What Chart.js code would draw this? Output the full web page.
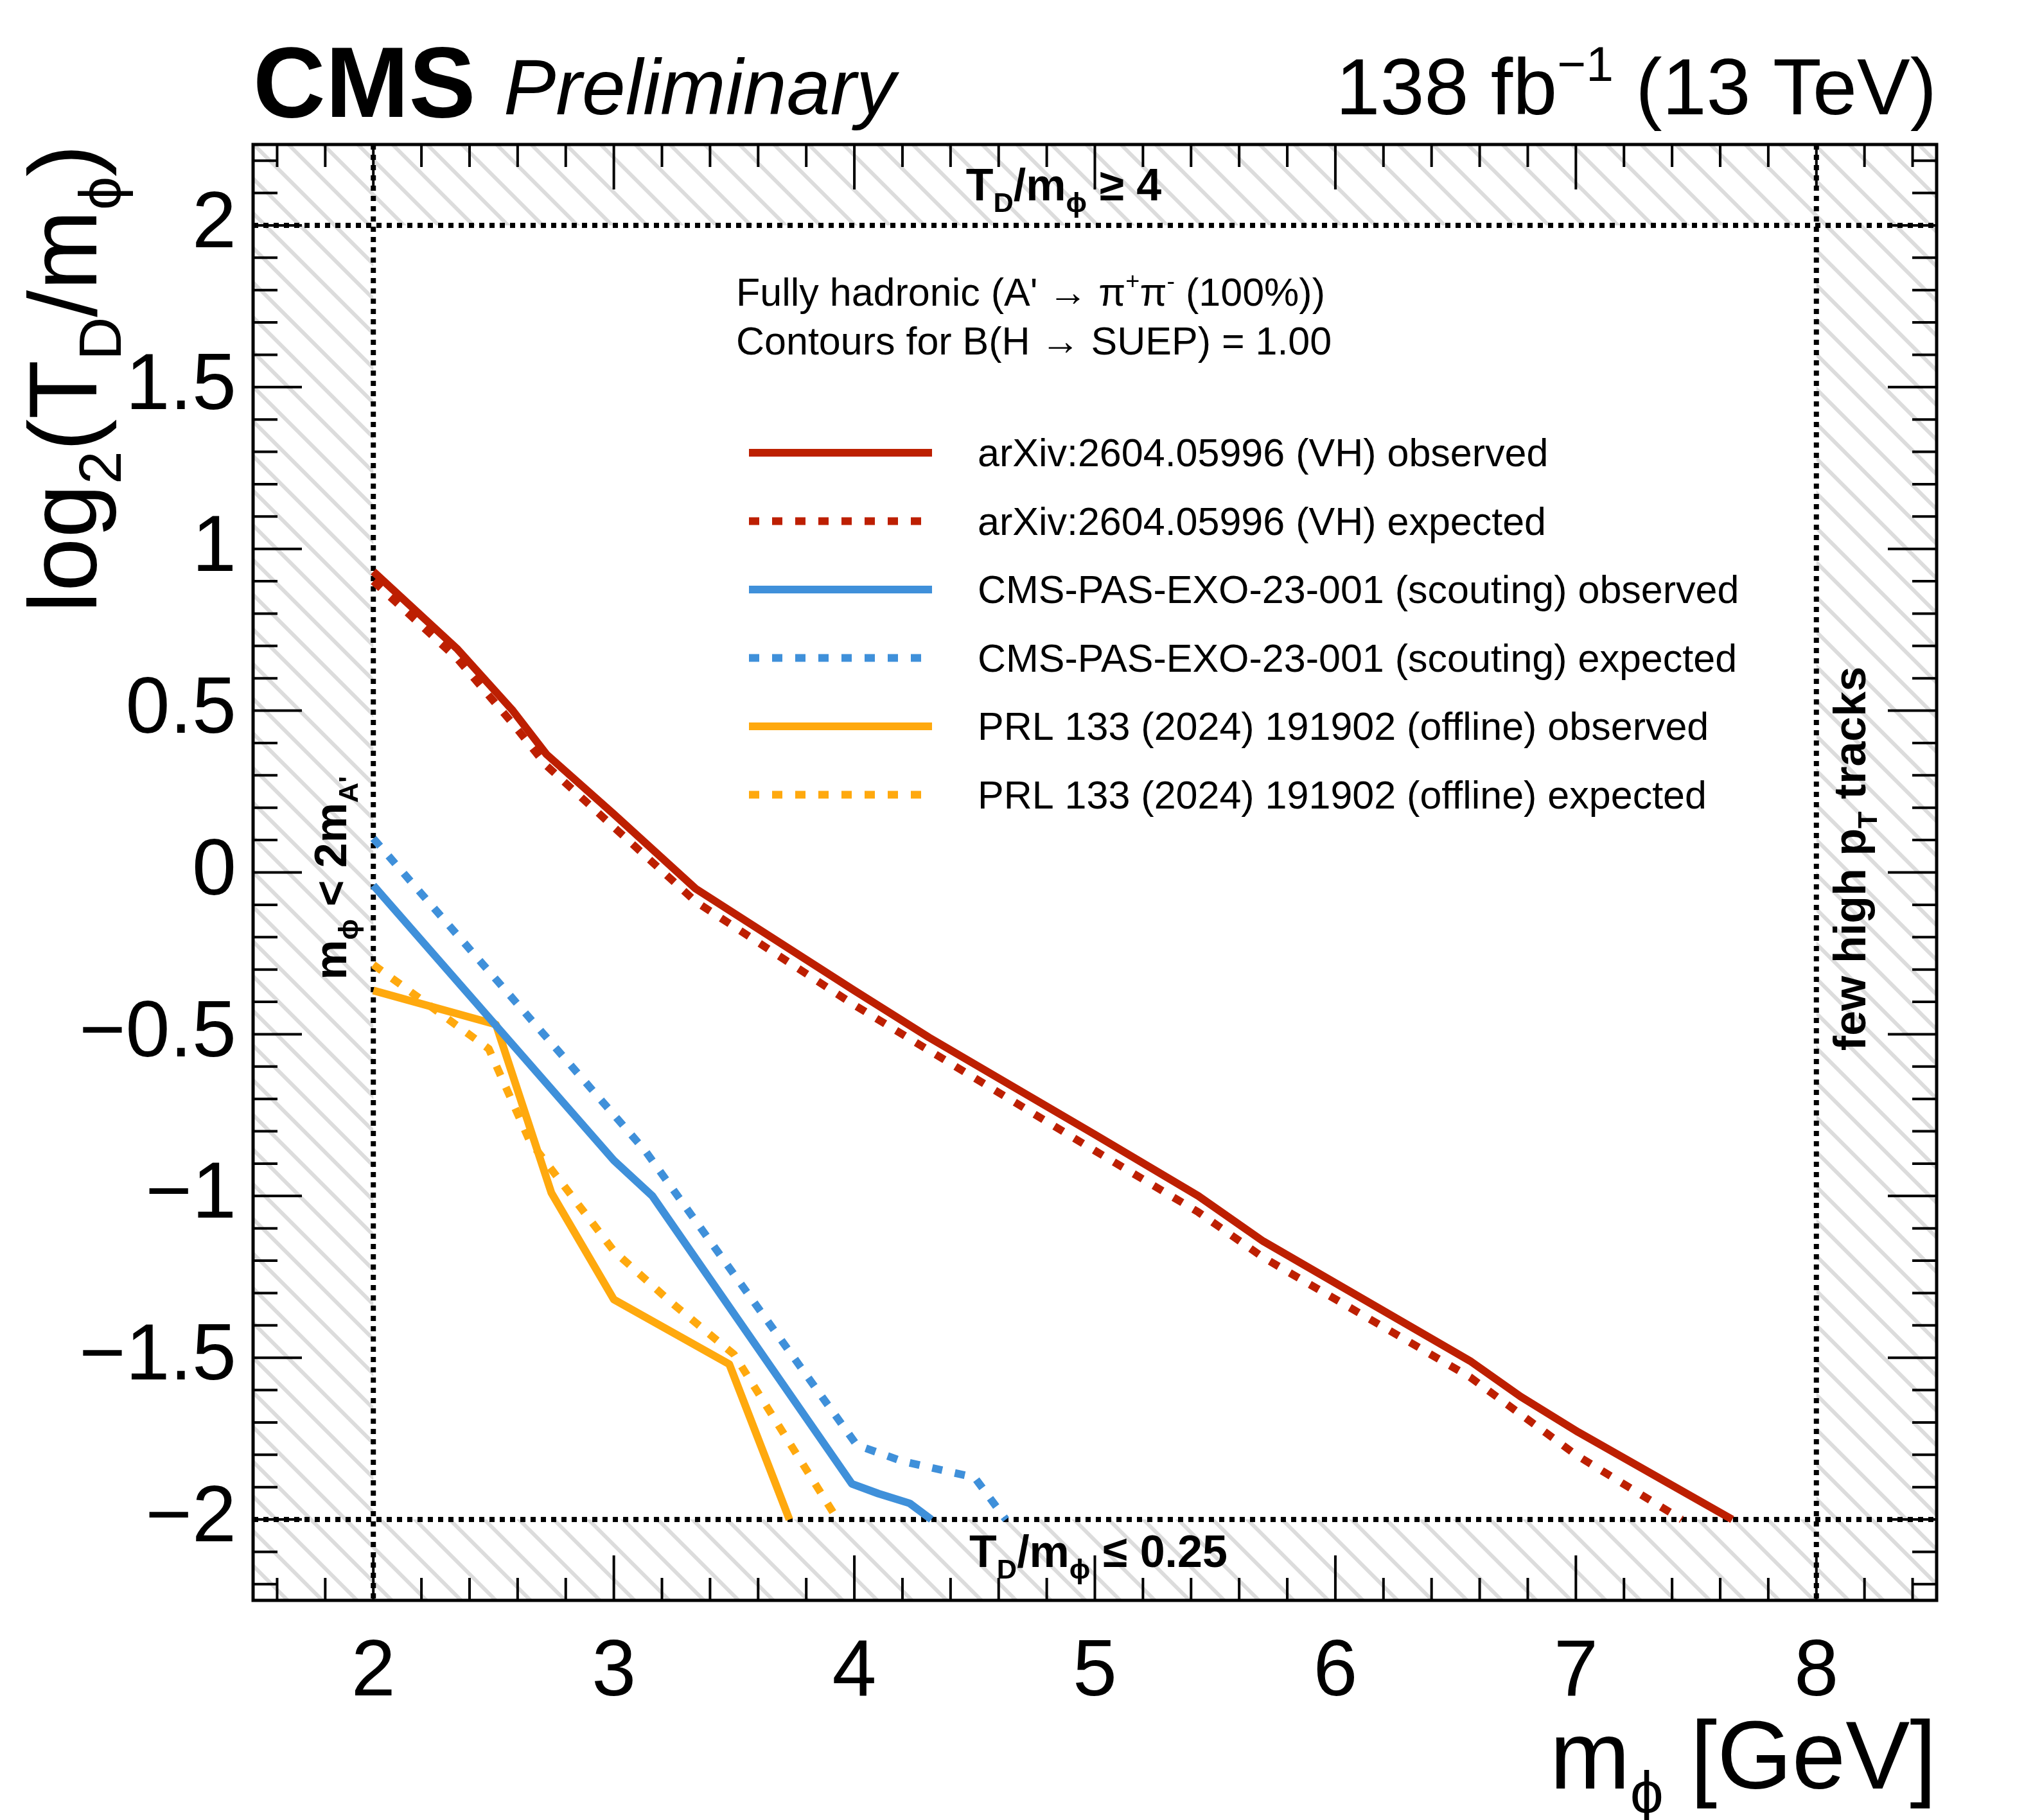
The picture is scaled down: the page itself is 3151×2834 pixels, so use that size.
<!DOCTYPE html>
<html><head><meta charset="utf-8">
<script src="https://cdn.jsdelivr.net/npm/chart.js@4/dist/chart.umd.min.js"></script>
<style>html,body{margin:0;padding:0;background:#fff}</style>
</head><body>
<canvas id="c" width="3151" height="2834"></canvas>
<script>
const xTicks = [2,3,4,5,6,7,8];
const yTicks = [-2,-1.5,-1,-0.5,0,0.5,1,1.5,2];
const yTickLabels = ["\u22122","\u22121.5","\u22121","\u22120.5","0","0.5","1","1.5","2"];
const vhObsX = [2,2.35,2.58,2.72,3.0,3.34,4.0,4.31,5.0,5.43,5.70,6.56,6.77,7.01,7.65];
const vhObsY = [0.93,0.69,0.50,0.365,0.18,-0.05,-0.365,-0.51,-0.81,-1.0,-1.14,-1.51,-1.62,-1.73,-2.0];
const vhExpX = [2,2.35,2.58,2.72,3.0,3.34,4.0,4.31,5.0,5.43,5.70,6.56,7.0,7.44];
const vhExpY = [0.90,0.66,0.46,0.33,0.14,-0.09,-0.41,-0.55,-0.86,-1.05,-1.19,-1.56,-1.80,-2.0];
const scObsX = [2,3.0,3.16,3.99,4.1,4.23,4.32];
const scObsY = [-0.04,-0.89,-1.0,-1.89,-1.92,-1.95,-2.0];
const scExpX = [2,3.13,4.01,4.20,4.50,4.63];
const scExpY = [0.105,-0.86,-1.77,-1.82,-1.87,-2.0];
const offObsX = [2,2.51,2.74,3.0,3.48,3.73];
const offObsY = [-0.365,-0.47,-0.99,-1.32,-1.52,-2.0];
const offExpX = [2,2.48,2.65,3.0,3.24,3.5,3.77,3.93];
const offExpY = [-0.285,-0.545,-0.83,-1.17,-1.33,-1.49,-1.81,-2.0];
const RED="#bd1f01", BLUE="#3f90da", ORANGE="#ffa90e";
const legendLabels = ["arXiv:2604.05996 (VH) observed","arXiv:2604.05996 (VH) expected",
 "CMS-PAS-EXO-23-001 (scouting) observed","CMS-PAS-EXO-23-001 (scouting) expected",
 "PRL 133 (2024) 191902 (offline) observed","PRL 133 (2024) 191902 (offline) expected"];
const FONT="'Liberation Sans', Arial, sans-serif";
const pts=(xs,ys)=>xs.map((x,i)=>({x,y:ys[i]}));
const DOT=[16,20];
function ds(label,xs,ys,color,dashed){return {label,data:pts(xs,ys),borderColor:color,borderWidth:12,
 borderDash:dashed?DOT:[],pointRadius:0,tension:0,fill:false,borderCapStyle:'butt',borderJoinStyle:'round'};}

function rich(ctx,parts,x,y,size,align){
  const f=(p)=>{const s=p[1]==='n'?size:size*0.62;return (p[3]?'italic ':'')+(p[2]?'bold ':'')+s+'px '+FONT;};
  let w=0; parts.forEach(p=>{ctx.font=f(p);w+=ctx.measureText(p[0]).width;});
  let cx = align==='right'?x-w:(align==='center'?x-w/2:x);
  ctx.textAlign='left';ctx.textBaseline='alphabetic';
  parts.forEach(p=>{ctx.font=f(p);let dy=p[1]==='sub'?size*0.25:(p[1]==='sup'?-size*0.42:0);
    ctx.fillText(p[0],cx,y+dy);cx+=ctx.measureText(p[0]).width;});
}

const deco={id:'deco',
 beforeDatasetsDraw(ch){
  const ctx=ch.ctx,xs=ch.scales.x,ys=ch.scales.y,a=ch.chartArea;
  const x2=xs.getPixelForValue(2),x8=xs.getPixelForValue(8),yT=ys.getPixelForValue(2),yB=ys.getPixelForValue(-2);
  ctx.save();
  ctx.beginPath();ctx.rect(a.left,a.top,a.right-a.left,a.bottom-a.top);
  ctx.rect(x8,yT,x2-x8,yB-yT);ctx.clip('evenodd');
  ctx.strokeStyle='#dcdcdc';ctx.lineWidth=6;
  const H=a.bottom-a.top;
  for(let s=a.left-H;s<a.right;s+=54){ctx.beginPath();ctx.moveTo(s,a.top);ctx.lineTo(s+H,a.bottom);ctx.stroke();}
  ctx.restore();
  ctx.save();ctx.strokeStyle='#000';ctx.lineWidth=8;ctx.setLineDash([8,8]);
  [[x2,a.top,x2,a.bottom],[x8,a.top,x8,a.bottom],[a.left,yT,a.right,yT],[a.left,yB,a.right,yB]].forEach(l=>{
   ctx.beginPath();ctx.moveTo(l[0],l[1]);ctx.lineTo(l[2],l[3]);ctx.stroke();});
  ctx.restore();
 },
 afterDatasetsDraw(ch){
  const ctx=ch.ctx,xs=ch.scales.x,ys=ch.scales.y,a=ch.chartArea;
  ctx.save();ctx.fillStyle='#000';ctx.strokeStyle='#000';
  ctx.lineWidth=5;ctx.strokeRect(a.left,a.top,a.right-a.left,a.bottom-a.top);
  ctx.lineWidth=4;
  for(let i=15;i<=85;i++){const v=i/10;if(Math.abs(v*5-Math.round(v*5))>1e-6)continue;
   const px=xs.getPixelForValue(v);const L=Math.abs(v-Math.round(v))<1e-6?70:35;
   ctx.beginPath();ctx.moveTo(px,a.bottom);ctx.lineTo(px,a.bottom-L);ctx.moveTo(px,a.top);ctx.lineTo(px,a.top+L);ctx.stroke();}
  for(let i=-22;i<=22;i++){const v=i/10;const py=ys.getPixelForValue(v);const L=(i%5===0)?76:38;
   ctx.beginPath();ctx.moveTo(a.left,py);ctx.lineTo(a.left+L,py);ctx.moveTo(a.right,py);ctx.lineTo(a.right-L,py);ctx.stroke();}
  ctx.font='124px '+FONT;ctx.textAlign='center';ctx.textBaseline='alphabetic';
  xTicks.forEach(v=>ctx.fillText(String(v),xs.getPixelForValue(v),2640));
  ctx.textAlign='right';ctx.textBaseline='middle';
  yTicks.forEach((v,i)=>ctx.fillText(yTickLabels[i],368,ys.getPixelForValue(v)));
  rich(ctx,[["m",'n'],["\u03d5",'sub'],[" [GeV]",'n']],a.right,2785,150,'right');
  ctx.save();ctx.translate(150,a.top);ctx.rotate(-Math.PI/2);
  rich(ctx,[["log",'n'],["2",'sub'],["(T",'n'],["D",'sub'],["/m",'n'],["\u03d5",'sub'],[")",'n']],0,0,150,'right');
  ctx.restore();
  rich(ctx,[["CMS",'n',true]],394,182,156,'left');
  rich(ctx,[["Preliminary",'n',false,true]],784,178,122,'left');
  rich(ctx,[["138 fb",'n'],["\u22121",'sup'],[" (13 TeV)",'n']],a.right,178,124,'right');
  rich(ctx,[["T",'n',true],["D",'sub',true],["/m",'n',true],["\u03d5",'sub',true],[" \u2265 4",'n',true]],1656,312,70,'center');
  rich(ctx,[["T",'n',true],["D",'sub',true],["/m",'n',true],["\u03d5",'sub',true],[" \u2264 0.25",'n',true]],1710,2440,70,'center');
  ctx.save();ctx.translate(539,1367);ctx.rotate(-Math.PI/2);
  rich(ctx,[["m",'n',true],["\u03d5",'sub',true],[" < 2m",'n',true],["A'",'sub',true]],0,0,70,'center');ctx.restore();
  ctx.save();ctx.translate(2904,1337);ctx.rotate(-Math.PI/2);
  rich(ctx,[["few high p",'n',true],["T",'sub',true],[" tracks",'n',true]],0,0,70,'center');ctx.restore();
  rich(ctx,[["Fully hadronic (A' \u2192 \u03c0",'n'],["+",'sup'],["\u03c0",'n'],["-",'sup'],[" (100%))",'n']],1146,476,61,'left');
  rich(ctx,[["Contours for B(H \u2192 SUEP) = 1.00",'n']],1146,552,61,'left');
  const cols=[RED,RED,BLUE,BLUE,ORANGE,ORANGE];
  legendLabels.forEach((t,i)=>{const y=705+i*106.5;
   ctx.save();ctx.strokeStyle=cols[i];ctx.lineWidth=12;ctx.setLineDash(i%2?DOT:[]);
   ctx.beginPath();ctx.moveTo(1166,y);ctx.lineTo(1451,y);ctx.stroke();ctx.restore();
   rich(ctx,[[t,'n']],1522,y+21,61,'left');});
  ctx.restore();
 }};

new Chart(document.getElementById('c'),{type:'line',
 data:{datasets:[ds(legendLabels[0],vhObsX,vhObsY,RED,false),ds(legendLabels[1],vhExpX,vhExpY,RED,true),
  ds(legendLabels[2],scObsX,scObsY,BLUE,false),ds(legendLabels[3],scExpX,scExpY,BLUE,true),
  ds(legendLabels[4],offObsX,offObsY,ORANGE,false),ds(legendLabels[5],offExpX,offExpY,ORANGE,true)]},
 options:{responsive:false,animation:false,devicePixelRatio:1,
  layout:{padding:{top:225,right:136,left:0,bottom:0}},
  plugins:{legend:{display:false},tooltip:{enabled:false}},
  scales:{x:{type:'linear',min:1.5,max:8.5,grid:{display:false},border:{display:false},ticks:{display:false},
     afterFit(s){s.height=342;}},
   y:{type:'linear',min:-2.25,max:2.25,grid:{display:false},border:{display:false},ticks:{display:false},
     afterFit(s){s.width=394;}}}},
 plugins:[deco]});
</script>
</body></html>
